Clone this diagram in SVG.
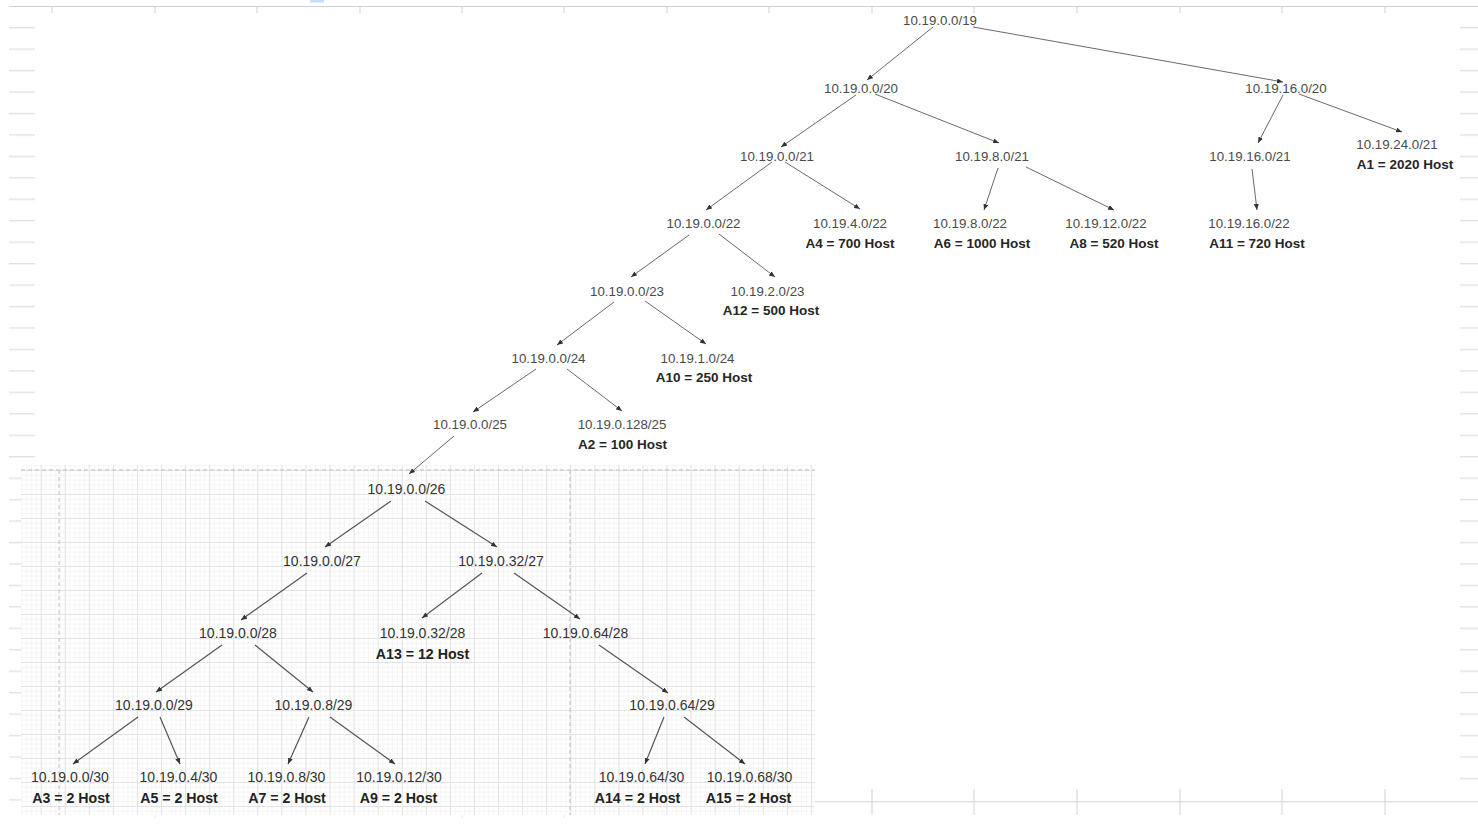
<svg xmlns="http://www.w3.org/2000/svg" width="1478" height="832" viewBox="0 0 1478 832">
<defs>
<style>
.t{font-family:"Liberation Sans",Arial,sans-serif;font-size:13.3px;fill:#4a4a4a;text-anchor:middle}
.tb{font-family:"Liberation Sans",Arial,sans-serif;font-size:13.5px;font-weight:bold;fill:#262626;text-anchor:middle}
.g{font-family:"Liberation Sans",Arial,sans-serif;font-size:14px;fill:#333;text-anchor:middle}
.gb{font-family:"Liberation Sans",Arial,sans-serif;font-size:14.2px;font-weight:bold;fill:#222;text-anchor:middle}
.c{stroke:#6a6a6a;stroke-width:1;fill:none;marker-end:url(#ah)}
.cb{stroke:#555;stroke-width:1.2;fill:none;marker-end:url(#ah)}
.tick{stroke:#d9d9d9;stroke-width:1.2}
.dash{stroke:#bdbdbd;stroke-width:1;stroke-dasharray:4 3;fill:none}
</style>
<marker id="ah" viewBox="0 0 6 5" refX="6" refY="2.5" markerWidth="6" markerHeight="5" markerUnits="userSpaceOnUse" orient="auto">
<path d="M0,0 L6,2.5 L0,5 z" fill="#333"/>
</marker>
<pattern id="rows" patternUnits="userSpaceOnUse" x="0" y="27" width="1478" height="21.45">
<rect x="0" y="0" width="1478" height="1.4" fill="#e2e2e2"/>
</pattern>
<pattern id="minor" patternUnits="userSpaceOnUse" x="40.7" y="470" width="4.814" height="4.8">
<rect x="0" y="0" width="0.6" height="4.8" fill="#f1f1f1"/>
<rect x="0" y="0" width="4.814" height="0.6" fill="#f1f1f1"/>
</pattern>
<pattern id="major" patternUnits="userSpaceOnUse" x="40.7" y="470" width="24.07" height="24">
<rect x="0" y="0" width="1" height="24" fill="#e3e3e3"/>
<rect x="0" y="0" width="24.07" height="1" fill="#e3e3e3"/>
</pattern>
</defs>
<rect width="1478" height="832" fill="#fff"/>
<g id="sheet">
<rect x="310" y="0" width="14" height="2.5" fill="#c9dbfb"/>
<line x1="9" y1="6.5" x2="1478" y2="6.5" stroke="#cfcfcf" stroke-width="1.2"/>
<g class="tick">
<line x1="52" y1="7" x2="52" y2="13"/><line x1="155" y1="7" x2="155" y2="13"/><line x1="257" y1="7" x2="257" y2="13"/><line x1="360" y1="7" x2="360" y2="13"/><line x1="462" y1="7" x2="462" y2="13"/><line x1="564" y1="7" x2="564" y2="13"/><line x1="667" y1="7" x2="667" y2="13"/><line x1="769" y1="7" x2="769" y2="13"/><line x1="872" y1="7" x2="872" y2="13"/><line x1="974" y1="7" x2="974" y2="13"/><line x1="1077" y1="7" x2="1077" y2="13"/><line x1="1180" y1="7" x2="1180" y2="13"/><line x1="1282" y1="7" x2="1282" y2="13"/><line x1="1385" y1="7" x2="1385" y2="13"/>
</g>
<rect x="9" y="20" width="26" height="446" fill="url(#rows)"/>
<rect x="9" y="466" width="12" height="340" fill="url(#rows)"/>
<rect x="1460" y="20" width="18" height="765" fill="url(#rows)"/>
<line x1="815" y1="801.7" x2="1478" y2="801.7" stroke="#e2e2e2" stroke-width="1.4"/>
<g class="tick">
<line x1="872" y1="789" x2="872" y2="815"/><line x1="974" y1="789" x2="974" y2="815"/><line x1="1077" y1="789" x2="1077" y2="815"/><line x1="1180" y1="789" x2="1180" y2="815"/><line x1="1282" y1="789" x2="1282" y2="815"/><line x1="1385" y1="789" x2="1385" y2="815"/>
</g>
<g stroke="#ececec" stroke-width="1">
<line x1="155" y1="815" x2="155" y2="818"/><line x1="462" y1="815" x2="462" y2="818"/><line x1="564" y1="815" x2="564" y2="818"/>
</g>
</g>
<g id="grid">
<rect x="21" y="465" width="794" height="350" fill="url(#minor)"/>
<rect x="21" y="465" width="794" height="350" fill="url(#major)"/>
<line class="dash" x1="21" y1="470" x2="815" y2="470"/>
<line class="dash" x1="59" y1="470" x2="59" y2="815"/>
<line class="dash" x1="570" y1="470" x2="570" y2="815"/>
</g>
<g id="connectors">
<line class="c" x1="933" y1="27" x2="867" y2="80"/>
<line class="c" x1="973" y1="27" x2="1283" y2="82"/>
<line class="c" x1="856" y1="95" x2="781" y2="147"/>
<line class="c" x1="875" y1="94" x2="999" y2="143"/>
<line class="c" x1="1283" y1="95" x2="1258" y2="143"/>
<line class="c" x1="1299" y1="94" x2="1402" y2="132"/>
<line class="c" x1="1252" y1="169" x2="1257" y2="210"/>
<line class="c" x1="772" y1="162" x2="706" y2="210"/>
<line class="c" x1="785" y1="162" x2="860" y2="209"/>
<line class="c" x1="998" y1="168" x2="984" y2="210"/>
<line class="c" x1="1026" y1="167" x2="1114" y2="210"/>
<line class="c" x1="689" y1="235" x2="631" y2="277"/>
<line class="c" x1="719" y1="234" x2="775" y2="277"/>
<line class="c" x1="614" y1="302" x2="557" y2="345"/>
<line class="c" x1="645" y1="301" x2="706" y2="344"/>
<line class="c" x1="536" y1="369" x2="473" y2="412"/>
<line class="c" x1="567" y1="369" x2="622" y2="411"/>
<line class="c" x1="454" y1="436" x2="409" y2="474"/>
<line class="cb" x1="391" y1="501" x2="325" y2="547"/>
<line class="cb" x1="425" y1="501" x2="497" y2="547"/>
<line class="cb" x1="307" y1="573" x2="241" y2="620"/>
<line class="cb" x1="482" y1="573" x2="422" y2="618"/>
<line class="cb" x1="514" y1="573" x2="580" y2="619"/>
<line class="cb" x1="222" y1="645" x2="156" y2="692"/>
<line class="cb" x1="255" y1="645" x2="313" y2="692"/>
<line class="cb" x1="599" y1="645" x2="668" y2="693"/>
<line class="cb" x1="138" y1="717" x2="73" y2="764"/>
<line class="cb" x1="160" y1="717" x2="180" y2="764"/>
<line class="cb" x1="309" y1="717" x2="288" y2="764"/>
<line class="cb" x1="330" y1="717" x2="395" y2="764"/>
<line class="cb" x1="664" y1="717" x2="645" y2="764"/>
<line class="cb" x1="684" y1="717" x2="745" y2="764"/>
</g>
<g id="n19"><text class="t" x="940" y="25">10.19.0.0/19</text></g>
<g id="n20a"><text class="t" x="861" y="93">10.19.0.0/20</text></g>
<g id="n20b"><text class="t" x="1286" y="93">10.19.16.0/20</text></g>
<g id="n21a"><text class="t" x="777" y="161">10.19.0.0/21</text></g>
<g id="n21b"><text class="t" x="992" y="161">10.19.8.0/21</text></g>
<g id="n21c"><text class="t" x="1250" y="161">10.19.16.0/21</text></g>
<g id="n21d"><text class="t" x="1397" y="149">10.19.24.0/21</text><text class="tb" x="1405" y="169">A1 = 2020 Host</text></g>
<g id="n22a"><text class="t" x="703.5" y="228">10.19.0.0/22</text></g>
<g id="n22b"><text class="t" x="850" y="228">10.19.4.0/22</text><text class="tb" x="850" y="247.5">A4 = 700 Host</text></g>
<g id="n22c"><text class="t" x="970" y="228">10.19.8.0/22</text><text class="tb" x="982" y="247.5">A6 = 1000 Host</text></g>
<g id="n22d"><text class="t" x="1106" y="228">10.19.12.0/22</text><text class="tb" x="1114" y="247.5">A8 = 520 Host</text></g>
<g id="n22e"><text class="t" x="1249" y="228">10.19.16.0/22</text><text class="tb" x="1257" y="247.5">A11 = 720 Host</text></g>
<g id="n23a"><text class="t" x="627" y="295.5">10.19.0.0/23</text></g>
<g id="n23b"><text class="t" x="767.5" y="295.5">10.19.2.0/23</text><text class="tb" x="771" y="314.5">A12 = 500 Host</text></g>
<g id="n24a"><text class="t" x="548.5" y="362.5">10.19.0.0/24</text></g>
<g id="n24b"><text class="t" x="697.5" y="362.5">10.19.1.0/24</text><text class="tb" x="704" y="381.5">A10 = 250 Host</text></g>
<g id="n25a"><text class="t" x="470" y="429">10.19.0.0/25</text></g>
<g id="n25b"><text class="t" x="622" y="429">10.19.0.128/25</text><text class="tb" x="622.5" y="448.5">A2 = 100 Host</text></g>
<g id="n26"><text class="g" x="406.5" y="493.5">10.19.0.0/26</text></g>
<g id="n27a"><text class="g" x="322" y="566">10.19.0.0/27</text></g>
<g id="n27b"><text class="g" x="501" y="566">10.19.0.32/27</text></g>
<g id="n28a"><text class="g" x="238" y="638">10.19.0.0/28</text></g>
<g id="n28b"><text class="g" x="422.5" y="638">10.19.0.32/28</text><text class="gb" x="422.5" y="658.5">A13 = 12 Host</text></g>
<g id="n28c"><text class="g" x="585.5" y="638">10.19.0.64/28</text></g>
<g id="n29a"><text class="g" x="154" y="710">10.19.0.0/29</text></g>
<g id="n29b"><text class="g" x="313.5" y="710">10.19.0.8/29</text></g>
<g id="n29c"><text class="g" x="672" y="710">10.19.0.64/29</text></g>
<g id="n30a"><text class="g" x="70" y="782">10.19.0.0/30</text><text class="gb" x="71" y="803">A3 = 2 Host</text></g>
<g id="n30b"><text class="g" x="178.5" y="782">10.19.0.4/30</text><text class="gb" x="179" y="803">A5 = 2 Host</text></g>
<g id="n30c"><text class="g" x="286.5" y="782">10.19.0.8/30</text><text class="gb" x="287" y="803">A7 = 2 Host</text></g>
<g id="n30d"><text class="g" x="399" y="782">10.19.0.12/30</text><text class="gb" x="398.5" y="803">A9 = 2 Host</text></g>
<g id="n30e"><text class="g" x="641.5" y="782">10.19.0.64/30</text><text class="gb" x="637.5" y="803">A14 = 2 Host</text></g>
<g id="n30f"><text class="g" x="749.5" y="782">10.19.0.68/30</text><text class="gb" x="748.5" y="803">A15 = 2 Host</text></g>
</svg>
